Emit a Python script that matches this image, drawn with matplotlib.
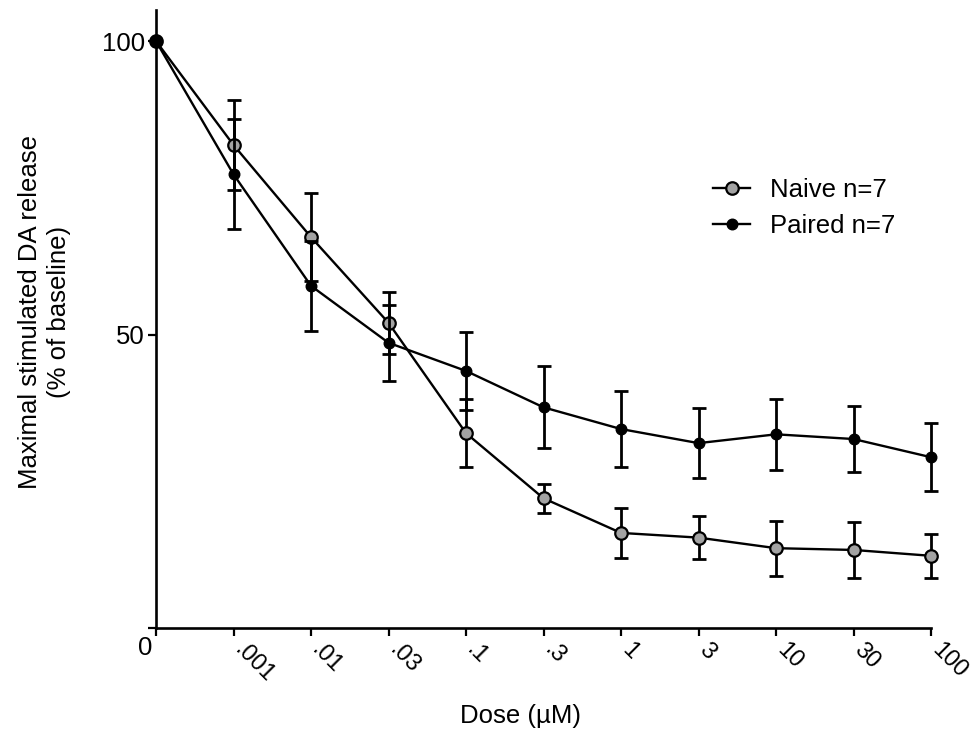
import numpy as np
import matplotlib
matplotlib.use("Agg")
import matplotlib.pyplot as plt
from matplotlib.transforms import ScaledTranslation

plt.rcParams['font.family'] = ['Liberation Sans', 'DejaVu Sans']

# Dose levels (µM) shown as evenly spaced categories
dose_labels = ["0", ".001", ".01", ".03", ".1", ".3", "1", "3", "10", "30", "100"]

# Maximal stimulated DA release, % of baseline (mean and SEM)
naive_mean = [100, 82.3, 66.6, 52.0, 33.2, 22.1, 16.2, 15.4, 13.6, 13.3, 12.3]
naive_sem = [0, 7.6, 7.5, 5.3, 5.8, 2.5, 4.2, 3.7, 4.7, 4.8, 3.8]
paired_mean = [100, 77.3, 58.3, 48.6, 43.8, 37.6, 33.9, 31.5, 33.0, 32.2, 29.1]
paired_sem = [0, 9.4, 7.7, 6.5, 6.7, 7.0, 6.4, 6.0, 6.1, 5.6, 5.8]

FS = 18.5
x = np.arange(len(dose_labels))

fig = plt.figure(figsize=(9.72, 7.3), dpi=100)
ax = fig.add_axes([156 / 972, 1 - 628 / 730, (931 - 156) / 972, (628 - 10) / 730])


def draw_series(mean, sem, face, ms, mew, label, z):
    mean = np.asarray(mean, dtype=float)
    sem = np.asarray(sem, dtype=float)
    has_err = sem > 0
    ax.errorbar(x[has_err], mean[has_err], yerr=sem[has_err], fmt="none",
                ecolor="black", elinewidth=2.0, capsize=4.8, capthick=2.0,
                zorder=z, clip_on=False)
    ax.plot(x, mean, color="black", lw=1.7, marker="o", ms=ms,
            markerfacecolor=face, markeredgecolor="black", markeredgewidth=mew,
            label=label, zorder=z + 1, clip_on=False)


draw_series(naive_mean, naive_sem, "#a3a3a3", 9.0, 1.6, "Naive n=7", 3)
draw_series(paired_mean, paired_sem, "black", 7.6, 1.0, "Paired n=7", 5)

ax.set_xlim(0, len(dose_labels) - 1)
ax.set_ylim(0, 105.3)

for side in ("top", "right"):
    ax.spines[side].set_visible(False)
for side in ("left", "bottom"):
    ax.spines[side].set_linewidth(1.9)
    ax.spines[side].set_color("black")

ax.tick_params(axis="both", direction="out", length=6, width=1.6,
               colors="black", labelsize=FS)
ax.tick_params(axis="y", pad=2)
ax.tick_params(axis="x", pad=10.5, labelsize=17)

ax.set_yticks([0, 50, 100])
ax.set_yticklabels(["", "50", "100"])

ax.set_xticks(x)
ax.set_xticklabels(dose_labels)
xlabels = ax.get_xticklabels()
for i, lab in enumerate(xlabels):
    if i == 0:
        lab.set_rotation(0)
        lab.set_ha("right")
        lab.set_va("top")
        lab.set_fontsize(FS)
        lab.set_transform(lab.get_transform() +
                          ScaledTranslation(-4 / 100, 15 / 100, fig.dpi_scale_trans))
    else:
        lab.set_rotation(-45)
        lab.set_rotation_mode("anchor")
        lab.set_ha("left")
        lab.set_va("baseline")

ax.set_xlabel("Dose (µM)", fontsize=FS, labelpad=0)
ax.xaxis.set_label_coords(0.47, -0.123)
ax.set_ylabel("Maximal stimulated DA release\n(% of baseline)", fontsize=FS,
              linespacing=1.25)
ax.yaxis.set_label_coords(-0.11, 0.511)

ax.legend(loc="center left", bbox_to_anchor=(713 / 972, 1 - 208 / 730),
          bbox_transform=fig.transFigure, frameon=False, fontsize=FS,
          handlelength=1.45, handletextpad=0.75, labelspacing=0.5,
          borderpad=0, borderaxespad=0)

fig.savefig("out.png", dpi=100)
